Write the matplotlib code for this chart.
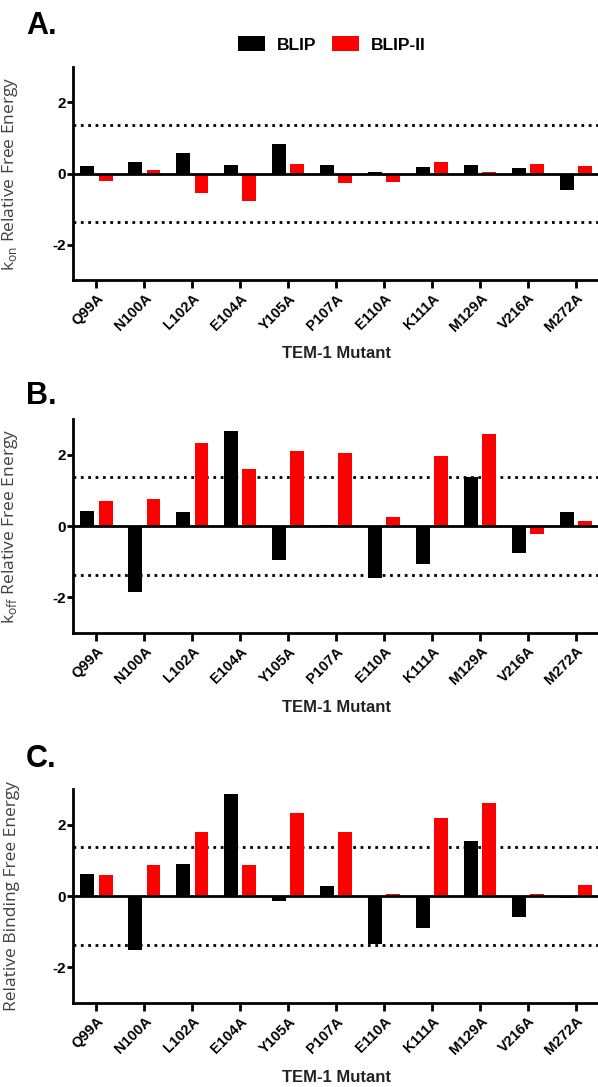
#builds the three-panel TEM-1 mutant free energy bar chart
import numpy as np
import matplotlib.pyplot as plt
from matplotlib.patches import Patch

mutants = ['Q99A', 'N100A', 'L102A', 'E104A', 'Y105A', 'P107A',
           'E110A', 'K111A', 'M129A', 'V216A', 'M272A']

# panel A: k_on
kon_blip = [0.21, 0.32, 0.57, 0.25, 0.84, 0.25, 0.05, 0.18, 0.24, 0.15, -0.47]
kon_blip2 = [-0.20, 0.10, -0.56, -0.78, 0.26, -0.28, -0.25, 0.31, 0.05, 0.27, 0.22]

# panel B: k_off
koff_blip = [0.43, -1.84, 0.38, 2.65, -0.95, 0.03, -1.45, -1.07, 1.37, -0.76, 0.38]
koff_blip2 = [0.70, 0.77, 2.33, 1.61, 2.09, 2.05, 0.26, 1.95, 2.57, -0.23, 0.13]

# panel C: binding
bind_blip = [0.62, -1.52, 0.90, 2.86, -0.13, 0.27, -1.35, -0.89, 1.55, -0.60, -0.07]
bind_blip2 = [0.58, 0.86, 1.80, 0.88, 2.33, 1.80, 0.05, 2.20, 2.60, 0.05, 0.32]

cutoff = 1.36
yticks = [-2, 0, 2]

panel_letters = ['A.', 'B.', 'C.']
ylabels = ['k$_{\\mathregular{on}}$ Relative Free Energy',
           'k$_{\\mathregular{off}}$ Relative Free Energy',
           'Relative Binding Free Energy']
Xlabel = 'TEM-1 Mutant'

plt.rcParams['font.family'] = ['Liberation Sans', 'DejaVu Sans']

W, H = 598, 1087
fig = plt.figure(figsize=(W / 100, H / 100), dpi=100)

# axes boxes in pixels: (top, bottom)
boxes = [(67, 280), (419, 633), (789, 1003)]
letter_y = [11, 381, 744]
xlabel_y = [354, 708, 1077]

x = np.arange(len(mutants))
bw = 0.29
off = 0.19

datasets = [(kon_blip, kon_blip2), (koff_blip, koff_blip2), (bind_blip, bind_blip2)]

for i, (blip, blip2) in enumerate(datasets):
    top, bot = boxes[i]
    ax = fig.add_axes([72.5 / W, 1 - bot / H, 527.5 / W, (bot - top) / H])
    ax.bar(x - off, blip, width=bw, color='black', zorder=2)
    ax.bar(x + off, blip2, width=bw, color='#ff0000', zorder=2)
    ax.axhline(0, color='black', lw=2, zorder=3)
    ax.axhline(cutoff, color='black', lw=2, ls=':', zorder=1)
    ax.axhline(-cutoff, color='black', lw=2, ls=':', zorder=1)
    ax.set_xlim(-0.5, len(mutants) - 0.5)
    ax.set_ylim(-3, 3)
    ax.set_yticks(yticks)
    ax.set_yticklabels([str(t) for t in yticks], fontweight='bold', fontsize=11)
    ax.set_xticks(x)
    ax.set_xticklabels(mutants, rotation=45, ha='right', rotation_mode='anchor',
                       fontweight='bold', fontsize=10.5)
    for s in ['top', 'right']:
        ax.spines[s].set_visible(False)
    for s in ['left', 'bottom']:
        ax.spines[s].set_linewidth(2)
    ax.tick_params(axis='x', length=6, width=2, pad=2)
    ax.tick_params(axis='y', length=4, width=2, pad=1)
    ax.set_ylabel(ylabels[i], family=['Open Sans', 'DejaVu Sans'], fontsize=12.5,
                  color='#404040')
    ax.yaxis.set_label_coords((20 - 72.5) / 527.5, 0.5)
    fig.text(336 / W, 1 - xlabel_y[i] / H, Xlabel, ha='center', va='center',
             fontweight='bold', fontsize=12, color='#222222')
    fig.text(26 / W, 1 - letter_y[i] / H, panel_letters[i], ha='left', va='top',
             fontweight='bold', fontsize=22)
    if i == 0:
        handles = [Patch(facecolor='black', label='BLIP'),
                   Patch(facecolor='#ff0000', label='BLIP-II')]
        ax.legend(handles=handles, loc='center', bbox_to_anchor=((332 - 72.5) / 527.5, 1.105),
                  ncol=2, frameon=False, prop={'weight': 'bold', 'size': 12.5},
                  handlelength=1.55, handleheight=0.95, handletextpad=0.7,
                  columnspacing=0.9)

plt.savefig('out.png')
plt.close()
